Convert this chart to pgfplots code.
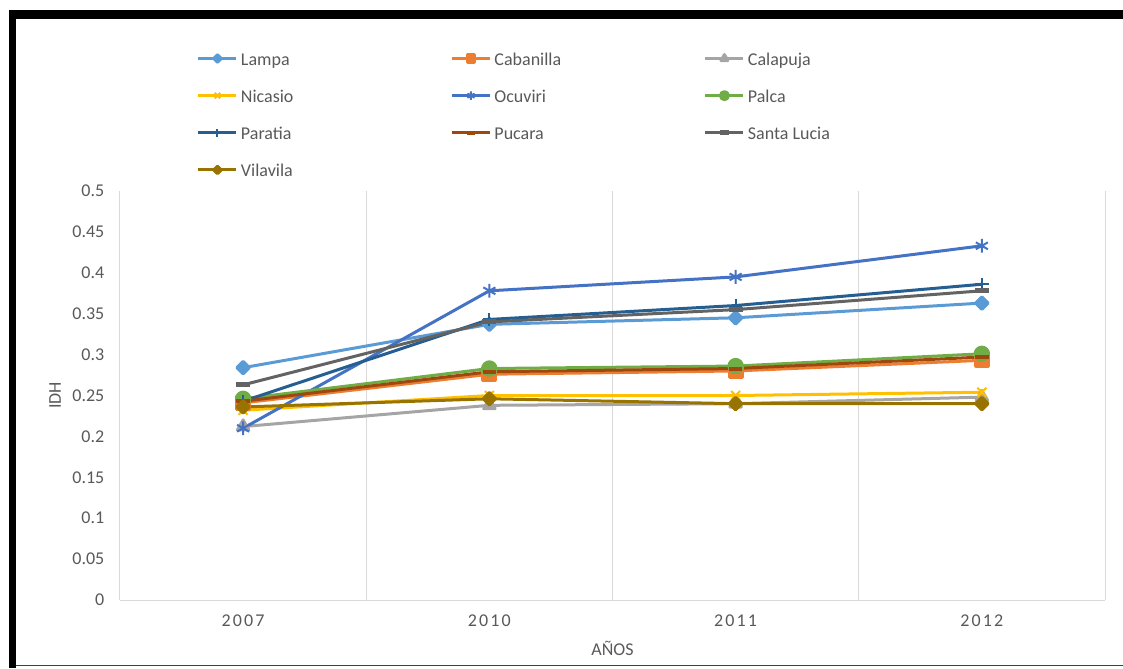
\documentclass[border=0pt]{standalone}
\usepackage{fontspec}
\setmainfont{Carlito}
\usepackage{pgfplots}
\pgfplotsset{compat=1.18}
\definecolor{cLampa}{HTML}{5B9BD5}
\definecolor{cCaban}{HTML}{ED7D31}
\definecolor{cCalap}{HTML}{A5A5A5}
\definecolor{cNicas}{HTML}{FFC000}
\definecolor{cOcuv}{HTML}{4472C4}
\definecolor{cPalca}{HTML}{70AD47}
\definecolor{cParat}{HTML}{255E91}
\definecolor{cPucar}{HTML}{9E480E}
\definecolor{cSanta}{HTML}{636363}
\definecolor{cVila}{HTML}{997300}
\definecolor{txtgray}{HTML}{595959}
\definecolor{gridgray}{HTML}{D9D9D9}
\newcommand{\leg}[1]{\makebox[159.35pt][l]{\hspace*{2.25pt}#1\strut}}
\begin{document}
\begin{tikzpicture}
\useasboundingbox (-90pt,-51pt) rectangle (752.25pt,450pt);
\fill[black] (-83.25pt,435.75pt) rectangle (752.25pt,442.5pt);
\fill[black] (-83.25pt,-51pt) rectangle (-78pt,442.5pt);
\draw[black!75, line width=1pt] (-78pt,-49pt) -- (752.25pt,-49pt);
\begin{axis}[
  scale only axis, width=738.75pt, height=306.75pt,
  xmin=-0.5, xmax=3.5, ymin=0, ymax=0.5,
  xtick={0,1,2,3}, xticklabels={2007,2010,2011,2012},
  minor xtick={-0.5,0.5,1.5,2.5,3.5}, xminorgrids=true,
  minor grid style={color=gridgray, line width=0.75pt},
  ytick={0,0.05,0.1,0.15,0.2,0.25,0.3,0.35,0.4,0.45,0.5},
  major tick length=0pt, minor tick length=0pt,
  axis x line*=bottom, axis y line*=left,
  x axis line style={-, color=gridgray, line width=0.75pt},
  y axis line style={draw=none},
  /pgf/number format/assume math mode=true,
  yticklabel style={/pgf/number format/fixed, /pgf/number format/precision=2, xshift=-8.25pt},
  xticklabel style={yshift=-7.7pt, font=\fontsize{13.5}{16}\selectfont\addfontfeature{LetterSpace=12}},
  ticklabel style={font=\fontsize{13.5}{16}\selectfont, color=txtgray},
  ylabel={IDH}, xlabel={AÑOS},
  every axis y label/.style={at={(axis description cs:-0.066,0.5)}, rotate=90, anchor=center},
  every axis x label/.style={at={(axis description cs:0.5,-0.1369)}, anchor=base},
  label style={font=\fontsize{13.5}{16}\selectfont, color=txtgray},
  legend columns=3,
  legend cell align=left,
  legend style={at={(0.07817,1.3448)}, anchor=north west, draw=none, fill=none,
    inner sep=0pt, outer sep=0pt, column sep=0pt, row sep=15pt,
    font=\fontsize{13.5}{16.2}\selectfont, text=txtgray, nodes={inner sep=0pt}},
  legend image code/.code={
    \draw[mark repeat=2,mark phase=2,#1] plot coordinates {(0pt,0pt) (14.25pt,0pt) (28.5pt,0pt)};
  },
  legend image post style={every mark/.append style={scale=0.6}},
  every axis plot/.append style={line width=2.25pt, line join=round},
]
\addplot[color=cLampa, mark=square*, mark size=3.3pt, mark options={rotate=45, fill=cLampa}]
  coordinates {(0,0.284) (1,0.337) (2,0.345) (3,0.363)};
\addlegendentry{\leg{Lampa}}
\addplot[color=cCaban, mark=square*, mark size=4.8pt, mark options={fill=cCaban}]
  coordinates {(0,0.241) (1,0.276) (2,0.280) (3,0.293)};
\addlegendentry{\leg{Cabanilla}}
\addplot[color=cCalap, mark=triangle*, mark size=5pt, mark options={fill=cCalap}]
  coordinates {(0,0.212) (1,0.238) (2,0.240) (3,0.248)};
\addlegendentry{\leg{Calapuja}}
\addplot[color=cNicas, mark=x, mark size=4.8pt, mark options={line width=1.5pt}]
  coordinates {(0,0.232) (1,0.250) (2,0.250) (3,0.254)};
\addlegendentry{\leg{Nicasio}}
\addplot[color=cOcuv, mark=asterisk, mark size=5.2pt, mark options={line width=1.5pt}]
  coordinates {(0,0.210) (1,0.378) (2,0.395) (3,0.433)};
\addlegendentry{\leg{Ocuviri}}
\addplot[color=cPalca, mark=*, mark size=5pt, mark options={fill=cPalca}]
  coordinates {(0,0.246) (1,0.283) (2,0.286) (3,0.301)};
\addlegendentry{\leg{Palca}}
\addplot[color=cParat, mark=+, mark size=5pt, mark options={line width=1.5pt}]
  coordinates {(0,0.243) (1,0.343) (2,0.360) (3,0.386)};
\addlegendentry{\leg{Paratia}}
\addplot[color=cPucar, mark=-, mark size=5pt, mark options={line width=3pt}]
  coordinates {(0,0.243) (1,0.279) (2,0.283) (3,0.297)};
\addlegendentry{\leg{Pucara}}
\addplot[color=cSanta, mark=-, mark size=5.25pt, mark options={line width=3.75pt}]
  coordinates {(0,0.263) (1,0.340) (2,0.355) (3,0.378)};
\addlegendentry{\leg{Santa Lucia}}
\addplot[color=cVila, mark=square*, mark size=3.3pt, mark options={rotate=45, fill=cVila}]
  coordinates {(0,0.236) (1,0.246) (2,0.240) (3,0.240)};
\addlegendentry{\leg{Vilavila}}
\end{axis}
\end{tikzpicture}
\end{document}
